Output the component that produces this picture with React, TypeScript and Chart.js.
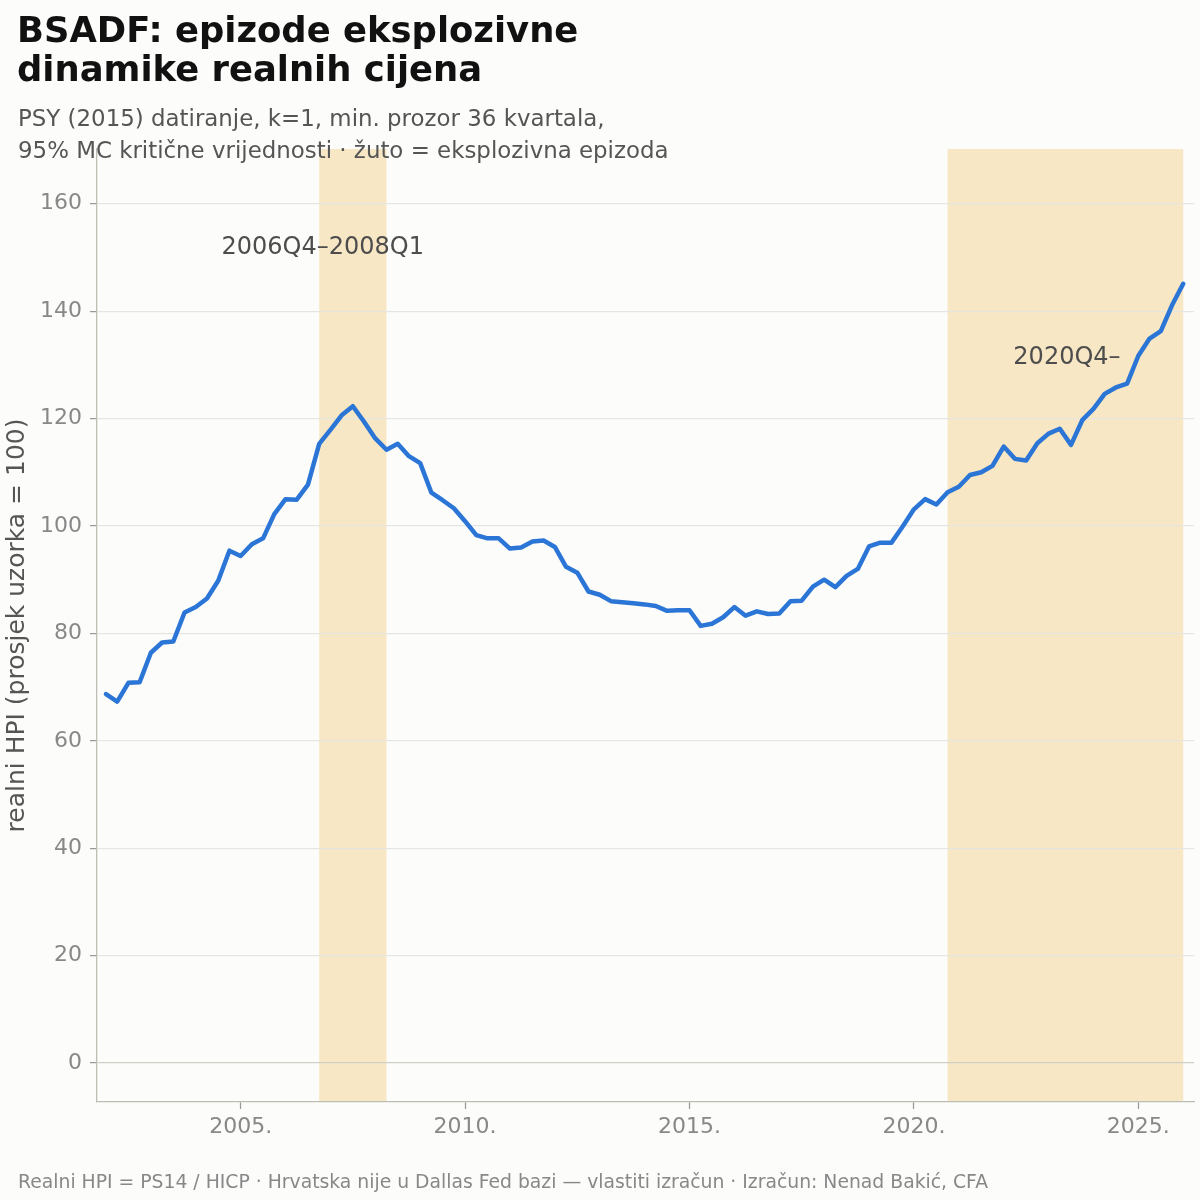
import React, { useEffect, useRef } from "react";
import { Chart, registerables } from "chart.js";

Chart.register(...registerables);

const FONT = "'DejaVu Sans', 'Liberation Sans', sans-serif";

// Quarterly sample, 2002Q1 .. 2026Q1
const firstYear = 2002;
const lastLabel = "2026Q1";
const quarters: string[] = [];
for (let y = firstYear; ; y++) {
  let done = false;
  for (let q = 1; q <= 4; q++) {
    const lab = `${y}Q${q}`;
    quarters.push(lab);
    if (lab === lastLabel) { done = true; break; }
  }
  if (done) break;
}

// Real house price index (sample mean = 100)
const realHpi = [
  68.7, 67.3, 70.8, 70.9, 76.4, 78.3, 78.5, 83.9,
  84.9, 86.5, 89.8, 95.4, 94.4, 96.6, 97.7, 102.2,
  105.0, 104.9, 107.7, 115.3, 117.9, 120.6, 122.3, 119.4,
  116.3, 114.2, 115.3, 113.0, 111.7, 106.2, 104.8, 103.3,
  100.9, 98.3, 97.7, 97.7, 95.8, 96.0, 97.1, 97.3,
  96.1, 92.4, 91.3, 87.8, 87.2, 86.0, 85.8, 85.6,
  85.4, 85.1, 84.2, 84.3, 84.3, 81.4, 81.8, 83.0,
  84.9, 83.3, 84.1, 83.6, 83.7, 86.0, 86.1, 88.7,
  90.0, 88.6, 90.7, 92.0, 96.2, 96.9, 96.9, 99.9,
  103.1, 105.0, 104.0, 106.3, 107.3, 109.5, 110.0, 111.2,
  114.8, 112.5, 112.2, 115.4, 117.2, 118.1, 115.1, 119.7,
  121.8, 124.6, 125.8, 126.5, 131.7, 134.9, 136.3, 141.1,
  145.1,
];

// Explosive episodes (first and last quarter)
const episodeFrom = ["2006Q4", "2020Q4"];
const episodeTo = ["2008Q1", "2025Q4"];
const episodeText = ["2006Q4–2008Q1", "2020Q4–"];

const xTickYears = [2005, 2010, 2015, 2020, 2025];
const yTickValues = [0, 20, 40, 60, 80, 100, 120, 140, 160];

const titleLines = ["BSADF: epizode eksplozivne", "dinamike realnih cijena"];
const subtitleLines = [
  "PSY (2015) datiranje, k=1, min. prozor 36 kvartala,",
  "95% MC kritične vrijednosti · žuto = eksplozivna epizoda",
];
const footerText =
  "Realni HPI = PS14 / HICP · Hrvatska nije u Dallas Fed bazi — vlastiti izračun · Izračun: Nenad Bakić, CFA";
const yAxisTitle = "realni HPI (prosjek uzorka = 100)";

const quarterToYear = (lab: string) => {
  const [y, q] = lab.split("Q");
  return Number(y) + (Number(q) - 1) / 4;
};

// where the episode captions sit, in axis units
const captionAnchors = [
  { x: 2006.83, y: 150.6 },
  { x: 2023.41, y: 130.1 },
];

const BG = "#fcfcfb";
const BAND = "#f8e7c4";
const LINE = "#2a75d6";

export default function App() {
  const canvasRef = useRef<HTMLCanvasElement | null>(null);

  useEffect(() => {
    document.body.style.margin = "0";
    document.body.style.background = BG;
    const canvas = canvasRef.current;
    if (!canvas) return;

    const decor = {
      id: "decor",
      beforeDraw(chart: any) {
        const { ctx, chartArea, scales } = chart;
        ctx.save();
        ctx.fillStyle = BG;
        ctx.fillRect(0, 0, chart.width, chart.height);
        ctx.fillStyle = BAND;
        episodeFrom.forEach((from, i) => {
          const x0 = scales.x.getPixelForValue(quarterToYear(from));
          const x1 = scales.x.getPixelForValue(quarterToYear(episodeTo[i]) + 0.25);
          ctx.fillRect(x0, chartArea.top, x1 - x0, chartArea.bottom - chartArea.top);
        });
        ctx.restore();
      },
      afterDraw(chart: any) {
        const { ctx, scales } = chart;
        ctx.save();
        // episode captions
        ctx.font = `24px ${FONT}`;
        ctx.fillStyle = "#4d4d4d";
        ctx.textAlign = "center";
        ctx.textBaseline = "alphabetic";
        episodeText.forEach((t, i) => {
          const a = captionAnchors[i];
          ctx.fillText(t, scales.x.getPixelForValue(a.x), scales.y.getPixelForValue(a.y));
        });
        // title block
        ctx.textAlign = "left";
        ctx.fillStyle = "#111111";
        ctx.font = `bold 35.4px ${FONT}`;
        ctx.fillText(titleLines[0], 17, 42);
        ctx.fillText(titleLines[1], 17, 80.5);
        ctx.fillStyle = "#555555";
        ctx.font = `22.9px ${FONT}`;
        ctx.fillText(subtitleLines[0], 18, 126);
        ctx.fillText(subtitleLines[1], 18, 158);
        // footer
        ctx.fillStyle = "#888888";
        ctx.font = `18.8px ${FONT}`;
        ctx.fillText(footerText, 18, 1188);
        ctx.restore();
      },
    };

    const chart = new Chart(canvas, {
      type: "line",
      data: {
        datasets: [
          {
            data: quarters.map((q, i) => ({ x: quarterToYear(q), y: realHpi[i] })),
            borderColor: LINE,
            borderWidth: 4.5,
            pointRadius: 0,
            tension: 0,
            borderJoinStyle: "round",
            borderCapStyle: "round",
            fill: false,
          },
        ],
      },
      options: {
        responsive: false,
        animation: false,
        events: [],
        layout: { padding: { top: 149, right: 6, left: 0, bottom: 0 } },
        plugins: { legend: { display: false }, tooltip: { enabled: false } },
        scales: {
          x: {
            type: "linear",
            min: 2001.8,
            max: 2026.24,
            afterBuildTicks: (s: any) => {
              s.ticks = xTickYears.map((v) => ({ value: v }));
            },
            afterFit: (s: any) => {
              s.height = 98;
            },
            grid: {
              drawOnChartArea: false,
              drawTicks: true,
              tickLength: 7,
              tickColor: "#999999",
              tickWidth: 1.25,
            },
            border: { display: true, color: "#bdbdb4", width: 1.3 },
            ticks: {
              color: "#888888",
              font: { family: FONT, size: 22 },
              padding: 5,
              maxRotation: 0,
              autoSkip: false,
              callback: (v: any) => `${v}.`,
            },
          },
          y: {
            type: "linear",
            min: -7.26,
            max: 170.2,
            afterBuildTicks: (s: any) => {
              s.ticks = yTickValues.map((v) => ({ value: v }));
            },
            afterFit: (s: any) => {
              s.width = 97;
            },
            grid: {
              color: (c: any) => (c.tick && c.tick.value === 0 ? "#cfcfc8" : "#e5e5e2"),
              lineWidth: 1.2,
              drawTicks: true,
              tickLength: 7,
              tickColor: "#999999",
              tickWidth: 1.25,
            },
            border: { display: true, color: "#bdbdb4", width: 1.3 },
            ticks: {
              color: "#888888",
              font: { family: FONT, size: 22 },
              padding: 8,
              callback: (v: any) => `${v}`,
            },
            title: {
              display: true,
              text: yAxisTitle,
              color: "#555555",
              font: { family: FONT, size: 25 },
              padding: { top: 2, bottom: 2 },
            },
          },
        },
      },
      plugins: [decor],
    } as any);

    return () => chart.destroy();
  }, []);

  return (
    <div style={{ width: 1200, height: 1200 }}>
      <canvas ref={canvasRef} width={1200} height={1200} style={{ display: "block" }} />
    </div>
  );
}
